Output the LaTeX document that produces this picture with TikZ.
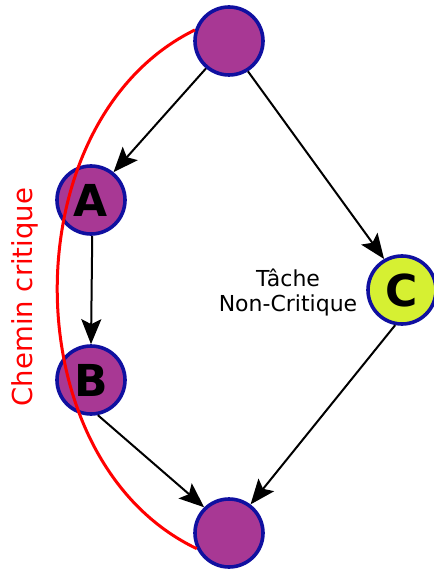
\documentclass[tikz,border=0pt]{standalone}
\usepackage{fontspec}
\setmainfont{DejaVu Sans}
\usetikzlibrary{arrows.meta}
\definecolor{nodefill}{RGB}{168,56,148}
\definecolor{nodeline}{RGB}{16,16,160}
\definecolor{cfill}{RGB}{214,240,50}
\begin{document}
\begin{tikzpicture}[x=1pt,y=-1pt,
  ev/.style={circle, draw=nodeline, line width=3.6pt, fill=nodefill, minimum size=68pt, inner sep=0pt, font=\fontsize{44}{44}\selectfont\bfseries},
  arr/.style={line width=2pt, -{Stealth[length=25pt,width=20pt,inset=5pt]}},
  crit/.style={red, line width=3pt}]
\useasboundingbox (0,0) rectangle (433,569);
\node[ev] (s) at (229,41) {};
\node[ev] (a) at (91,200) {A};
\node[ev] (b) at (91,380) {B};
\node[ev, fill=cfill] (c) at (402,290) {C};
\node[ev] (e) at (229,533) {};
\draw[arr] (s.230) -- (a.51);
\draw[arr] (s.-58) -- (c.120);
\draw[arr] (a.-88) -- (b.90);
\draw[arr] (b.-79) -- (e.134);
\draw[arr] (c.-101) -- (e.53);
\node[font=\fontsize{22}{25}\selectfont, align=center] (t) at (288,292) {Tâche\\Non-Critique};
\node[red, rotate=90, font=\fontsize{27.5}{32}\selectfont] (cc) at (25,297) {Chemin critique};
\draw[crit] (s.162) .. controls (11,120) and (11,460) .. (e.206);
\end{tikzpicture}
\end{document}
